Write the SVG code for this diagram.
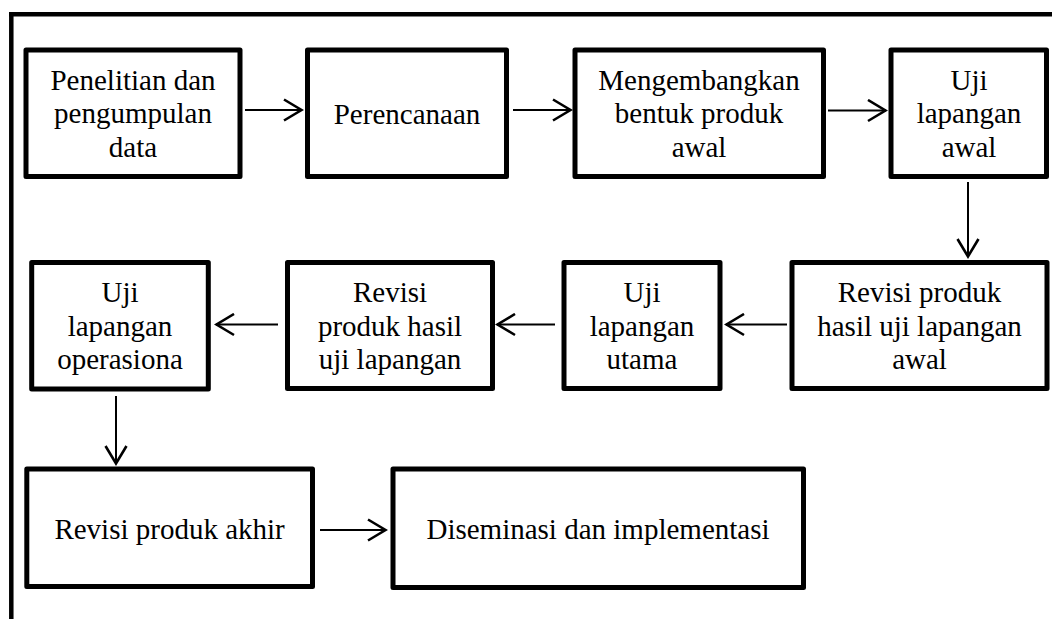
<svg xmlns="http://www.w3.org/2000/svg" width="1052" height="619" viewBox="0 0 1052 619">
<style>
.box{fill:#fff;stroke:#000;stroke-width:5;stroke-linejoin:round}
.t{font-family:'Liberation Serif','Tinos','Nimbus Roman','Nimbus Roman No9 L','FreeSerif','Noto Serif','DejaVu Serif','Times New Roman',Times,serif;font-size:29px;fill:#000;text-anchor:middle}
.c{stroke:#000;stroke-width:2;fill:none;marker-end:url(#ah)}
.frame{stroke:#000;stroke-width:4.5;fill:none}
</style>
<defs>
<marker id="ah" viewBox="0 0 22 24" refX="20" refY="12" markerWidth="22" markerHeight="24" markerUnits="userSpaceOnUse" orient="auto">
<path d="M2,1.5 L19.5,12 L2,22.5" fill="none" stroke="#000" stroke-width="2.6" stroke-linejoin="miter"/>
</marker>
</defs>
<rect width="1052" height="619" fill="#fff"/>
<g id="frame">
<path class="frame" d="M9,14.3 H1052"/>
<path class="frame" d="M11.3,12 V619"/>
</g>
<g id="connectors">
<path class="c" d="M245,110 H302"/>
<path class="c" d="M513,110 H571"/>
<path class="c" d="M828,110.5 H886"/>
<path class="c" d="M968,182 V257"/>
<path class="c" d="M787,324.5 H726"/>
<path class="c" d="M555,324.5 H497"/>
<path class="c" d="M278,324.5 H216"/>
<path class="c" d="M116,396 V464"/>
<path class="c" d="M320,530 H386"/>
</g>
<g id="n1">
<rect class="box" x="26" y="50" width="214" height="126.5"/>
<text class="t" x="133" y="90">Penelitian dan</text>
<text class="t" x="133" y="123">pengumpulan</text>
<text class="t" x="133" y="156.5">data</text>
</g>
<g id="n2">
<rect class="box" x="307.5" y="50" width="199" height="126.5"/>
<text class="t" x="407" y="124">Perencanaan</text>
</g>
<g id="n3">
<rect class="box" x="575" y="50" width="248.5" height="126.5"/>
<text class="t" x="699" y="90">Mengembangkan</text>
<text class="t" x="699" y="123">bentuk produk</text>
<text class="t" x="699" y="156.5">awal</text>
</g>
<g id="n4">
<rect class="box" x="891" y="50" width="155.5" height="126.5"/>
<text class="t" x="969" y="90">Uji</text>
<text class="t" x="969" y="123">lapangan</text>
<text class="t" x="969" y="156.5">awal</text>
</g>
<g id="n5">
<rect class="box" x="792" y="262.5" width="255" height="126"/>
<text class="t" x="919.5" y="302">Revisi produk</text>
<text class="t" x="919.5" y="335.5">hasil uji lapangan</text>
<text class="t" x="919.5" y="369">awal</text>
</g>
<g id="n6">
<rect class="box" x="564" y="262.5" width="156" height="126"/>
<text class="t" x="642" y="302">Uji</text>
<text class="t" x="642" y="335.5">lapangan</text>
<text class="t" x="642" y="369">utama</text>
</g>
<g id="n7">
<rect class="box" x="287.5" y="262.5" width="205" height="126"/>
<text class="t" x="390" y="302">Revisi</text>
<text class="t" x="390" y="335.5">produk hasil</text>
<text class="t" x="390" y="369">uji lapangan</text>
</g>
<g id="n8">
<rect class="box" x="31.7" y="262.5" width="176.6" height="126.5"/>
<text class="t" x="120" y="302">Uji</text>
<text class="t" x="120" y="335.5">lapangan</text>
<text class="t" x="120" y="369">operasiona</text>
</g>
<g id="n9">
<rect class="box" x="26.8" y="469" width="285.7" height="117.5"/>
<text class="t" x="169.6" y="538.5">Revisi produk akhir</text>
</g>
<g id="n10">
<rect class="box" x="393" y="469" width="410.5" height="118.5"/>
<text class="t" x="598" y="538.5">Diseminasi dan implementasi</text>
</g>
</svg>
